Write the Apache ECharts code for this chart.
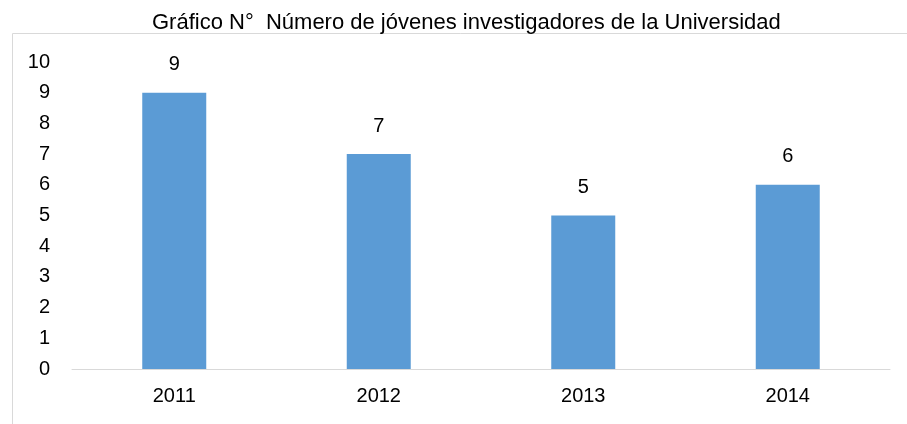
<!DOCTYPE html>
<html>
<head>
<meta charset="utf-8">
<script src="https://cdn.jsdelivr.net/npm/echarts@6/dist/echarts.min.js"></script>
<style>
  html, body { margin: 0; padding: 0; background: #fff; }
  #chart { width: 907px; height: 424px; }
</style>
</head>
<body>
<div id="chart"></div>
<script>
const TITLE = "Gráfico N°  Número de jóvenes investigadores de la Universidad";
const YEARS = ["2011", "2012", "2013", "2014"];
const RESEARCHERS = [9, 7, 5, 6];
const FONT = "'Liberation Sans Narrow', 'Arial Narrow', 'Liberation Sans', sans-serif";

const chart = echarts.init(document.getElementById("chart"));

chart.setOption({
  animation: false,
  title: {
    text: TITLE,
    left: 147,
    top: 7,
    textStyle: { fontFamily: FONT, fontSize: 22, fontWeight: "normal", color: "#000" },
  },
  graphic: [
    {
      type: "rect",
      silent: true,
      shape: { x: 12.5, y: 33.5, width: 1000, height: 600 },
      style: { fill: "none", stroke: "#d9d9d9", lineWidth: 1 },
    },
  ],
  grid: { left: 72, right: 17, top: 62, bottom: 55 },
  xAxis: {
    type: "category",
    data: YEARS,
    axisLine: { lineStyle: { color: "#d9d9d9", width: 1 } },
    axisTick: { show: false },
    axisLabel: { fontFamily: FONT, fontSize: 20, color: "#000", margin: 17 },
  },
  yAxis: {
    type: "value",
    min: 0,
    max: 10,
    interval: 1,
    axisLine: { show: false },
    axisTick: { show: false },
    splitLine: { show: false },
    axisLabel: { fontFamily: FONT, fontSize: 20, color: "#000", margin: 22 },
  },
  series: [
    {
      type: "bar",
      data: RESEARCHERS,
      barWidth: 64,
      itemStyle: { color: "#5b9bd5" },
      label: {
        show: true,
        position: "top",
        distance: 18,
        fontFamily: FONT,
        fontSize: 20,
        color: "#000",
      },
    },
  ],
});
</script>
</body>
</html>
